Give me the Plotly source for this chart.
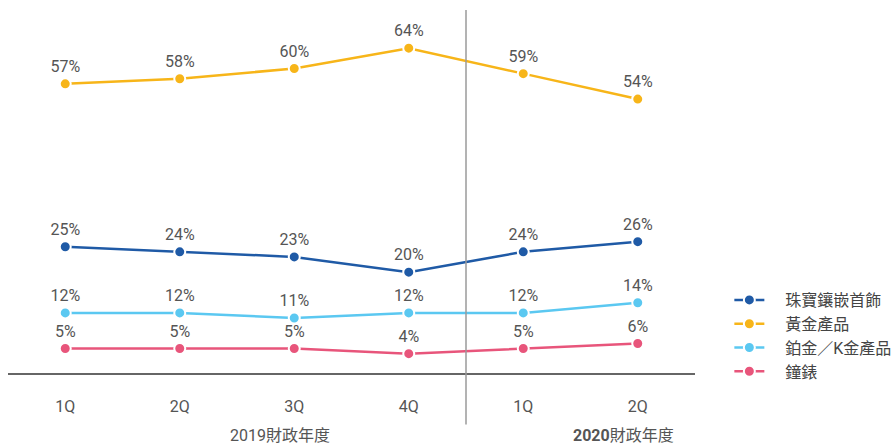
import plotly.graph_objects as go

quarters = ["1Q", "2Q", "3Q", "4Q", "1Q ", "2Q "]
quarter_labels = ["1Q", "2Q", "3Q", "4Q", "1Q", "2Q"]
series_names = ["珠寶鑲嵌首飾", "黃金產品", "鉑金／K金產品", "鐘錶"]
jewellery = [25, 24, 23, 20, 24, 26]
gold = [57, 58, 60, 64, 59, 54]
platinum = [12, 12, 11, 12, 12, 14]
watches = [5, 5, 5, 4, 5, 6]
colors = ["#1f5aa6", "#f7b519", "#5bc8f1", "#e8557b"]
year_labels = ["2019財政年度", "<b>2020</b>財政年度"]

FONT = "Roboto, Noto Sans CJK TC, sans-serif"
PAD = "\u00a0" * 4

fig = go.Figure()
for i, (name, vals) in enumerate(zip(series_names, [jewellery, gold, platinum, watches])):
    fig.add_trace(go.Scatter(
        x=list(range(len(quarters))), y=vals, name=PAD + name,
        mode="lines+markers+text",
        text=[f"{v}%" for v in vals], textposition="top center",
        textfont=dict(size=16, color="#555555", family=FONT),
        line=dict(color=colors[i], width=2.5),
        marker=dict(size=11, color=colors[i], line=dict(color="white", width=2)),
        legendgroup=name,
    ))

fig.add_shape(type="line", xref="x", yref="paper", x0=3.5, x1=3.5, y0=-0.139, y1=1,
              line=dict(color="#9a9a9a", width=1.5))

fig.add_annotation(x=1.876, y=-0.17, xref="x", yref="paper", text=year_labels[0],
                   showarrow=False, font=dict(size=16, color="#555555", family=FONT), yanchor="middle")
fig.add_annotation(x=4.878, y=-0.17, xref="x", yref="paper", text=year_labels[1],
                   showarrow=False, font=dict(size=16, color="#555555", family=FONT), yanchor="middle")

fig.update_xaxes(range=[-0.5, 5.5], tickvals=list(range(6)), ticktext=quarter_labels,
                 showgrid=False, zeroline=False, showline=False,
                 tickfont=dict(size=16, color="#555555", family=FONT), ticks="",
                 ticklabelstandoff=21)
fig.update_yaxes(range=[0, 71.5], showgrid=False, zeroline=True, zerolinecolor="#666666",
                 zerolinewidth=1.5, showticklabels=False, showline=False)

fig.update_layout(
    width=896, height=446,
    margin=dict(l=8, r=201, t=10, b=71.5, autoexpand=False),
    plot_bgcolor="white", paper_bgcolor="white",
    font=dict(family=FONT, color="#555555"),
    showlegend=True,
    legend=dict(x=1.05, y=0.25, xanchor="left", yanchor="top",
                font=dict(size=16, color="#444444", family=FONT),
                tracegroupgap=0, bgcolor="rgba(0,0,0,0)"),
)
fig.write_html("out.html", config={"displayModeBar": False},
               post_script="document.body.style.margin='0';document.body.style.overflow='hidden';")
